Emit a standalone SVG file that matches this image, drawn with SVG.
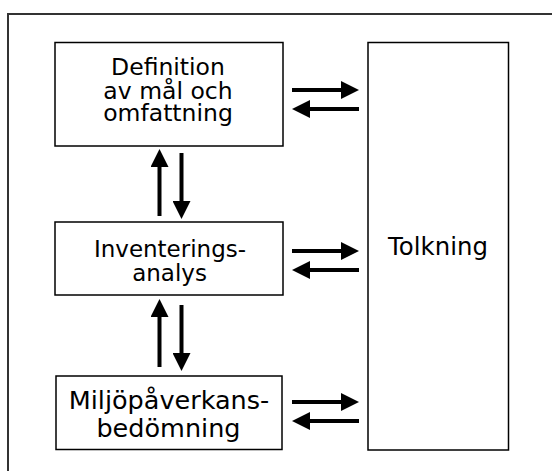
<svg xmlns="http://www.w3.org/2000/svg" width="552" height="471" viewBox="0 0 552 471">
<style>
.box{fill:#fff;stroke:#000;stroke-width:1.5}
.t{font-family:"DejaVu Sans",Verdana,sans-serif;fill:#000;text-anchor:middle}
.arr{stroke:#000;stroke-width:4;fill:none;marker-end:url(#ah)}
.frame{stroke:#333;stroke-width:2;fill:none}
</style>
<defs>
<marker id="ah" markerUnits="userSpaceOnUse" viewBox="0 0 18 18" markerWidth="18" markerHeight="18" refX="1" refY="9" orient="auto">
<path d="M0,0 L18,9 L0,18 Z" fill="#000"/>
</marker>
</defs>
<path class="frame" d="M8,471 L8,14 L552,14"/>
<g id="definition">
<rect class="box" x="55" y="42.5" width="228" height="103.5"/>
<text class="t" font-size="23.5" x="168" y="75">Definition</text>
<text class="t" font-size="23.5" x="168" y="98.5">av mål och</text>
<text class="t" font-size="23.5" x="168" y="121">omfattning</text>
</g>
<g id="inventering">
<rect class="box" x="55" y="222" width="228" height="73"/>
<text class="t" font-size="23" x="170" y="257">Inventerings-</text>
<text class="t" font-size="23" x="169.5" y="281">analys</text>
</g>
<g id="miljo">
<rect class="box" x="56" y="376" width="226" height="73.5"/>
<text class="t" font-size="25.5" x="169" y="408.5">Miljöpåverkans-</text>
<text class="t" font-size="25.5" x="168.5" y="436.5">bedömning</text>
</g>
<g id="tolkning">
<rect class="box" x="368" y="42.5" width="140.5" height="407.5"/>
<text class="t" font-size="24.4" x="438" y="255">Tolkning</text>
</g>
<g id="connectors">
<line class="arr" x1="292" y1="90" x2="342" y2="90"/>
<line class="arr" x1="359" y1="109" x2="309" y2="109"/>
<line class="arr" x1="292" y1="251" x2="342" y2="251"/>
<line class="arr" x1="359" y1="270" x2="309" y2="270"/>
<line class="arr" x1="292" y1="402" x2="342" y2="402"/>
<line class="arr" x1="359" y1="421" x2="309" y2="421"/>
<line class="arr" x1="159.5" y1="216" x2="159.5" y2="166"/>
<line class="arr" x1="181.5" y1="153" x2="181.5" y2="202"/>
<line class="arr" x1="159.5" y1="367" x2="159.5" y2="316"/>
<line class="arr" x1="181.5" y1="305" x2="181.5" y2="354"/>
</g>
</svg>
